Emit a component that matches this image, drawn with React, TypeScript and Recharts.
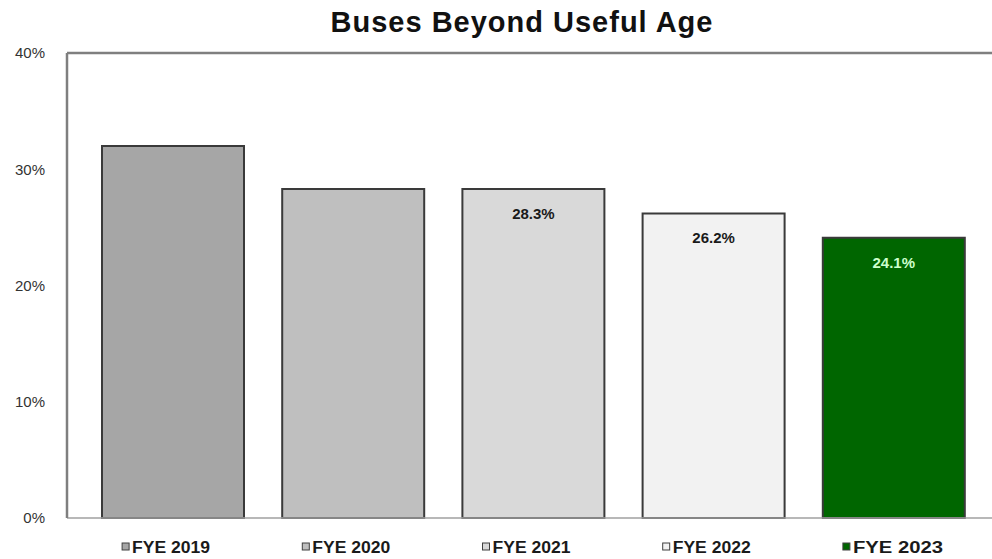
import { Bar, BarChart, Cell, LabelList, ReferenceLine, XAxis, YAxis } from "recharts";

const years = ["FYE 2019", "FYE 2020", "FYE 2021", "FYE 2022", "FYE 2023"];
const shares = [32.0, 28.3, 28.3, 26.2, 24.1];
const showLabel = [false, false, true, true, true];
const yTicks = [0, 10, 20, 30, 40];

const colors = ["#a6a6a6", "#bfbfbf", "#d9d9d9", "#f2f2f2", "#006600"];
const labelColors = ["#000000", "#000000", "#1a1a1a", "#1a1a1a", "#ccffcc"];

const data = years.map((year, i) => ({ year, share: shares[i], idx: i }));

function LegendTick(props: any) {
  const { x, y, payload, index } = props;
  return (
    <g transform={`translate(${x - 4},${y + 27})`}>
      <rect x={-47} y={-10} width={7} height={7} fill={colors[index]} stroke="#404040" strokeWidth={1} />
      <text
        x={-37}
        y={0}
        fontFamily="'Liberation Sans', Arial, sans-serif"
        fontWeight="bold"
        fontSize={16}
        fill="#1a1a1a"
        textLength={index === 4 ? 90 : 78}
        lengthAdjust="spacingAndGlyphs"
      >
        {payload.value}
      </text>
    </g>
  );
}

function ValueLabel(props: any) {
  const { x, y, width, index, value } = props;
  if (!showLabel[index]) return null;
  return (
    <text
      x={x + width / 2}
      y={y + 30}
      textAnchor="middle"
      fontFamily="'Liberation Sans', Arial, sans-serif"
      fontWeight="bold"
      fontSize={15}
      fill={labelColors[index]}
    >
      {value.toFixed(1)}%
    </text>
  );
}

export default function App() {
  return (
    <div style={{ position: "absolute", left: 0, top: 0, width: 992, height: 559, background: "#fff" }}>
      <div
        style={{
          position: "absolute",
          left: 0,
          width: 1044,
          top: 8,
          lineHeight: "29px",
          textAlign: "center",
          fontFamily: "'Liberation Sans', Arial, sans-serif",
          fontWeight: "bold",
          fontSize: 29,
          letterSpacing: 1,
          color: "#111",
        }}
      >
        Buses Beyond Useful Age
      </div>
      <BarChart width={992} height={559} data={data} margin={{ top: 53, right: 0, left: 0, bottom: 0 }}>
        <XAxis
          dataKey="year"
          height={41}
          padding={{ left: 16, right: 8 }}
          tickLine={false}
          axisLine={{ stroke: "#a0a0a0", strokeWidth: 1.5 }}
          tick={<LegendTick />}
          interval={0}
        />
        <YAxis
          width={67}
          domain={[0, 40]}
          ticks={yTicks}
          tickFormatter={(v) => `${v}%`}
          tickLine={false}
          axisLine={{ stroke: "#7f7f7f", strokeWidth: 2.5 }}
          tick={{ fontSize: 15, fill: "#333", fontFamily: "'Liberation Sans', Arial, sans-serif" }}
          tickMargin={16}
        />
        <ReferenceLine y={40} stroke="#7f7f7f" strokeWidth={2.5} />
        <Bar dataKey="share" barSize={142} stroke="#3a3a3a" strokeWidth={2} isAnimationActive={false}>
          {data.map((d) => (
            <Cell key={d.year} fill={colors[d.idx]} />
          ))}
          <LabelList dataKey="share" content={<ValueLabel />} />
        </Bar>
      </BarChart>
    </div>
  );
}
